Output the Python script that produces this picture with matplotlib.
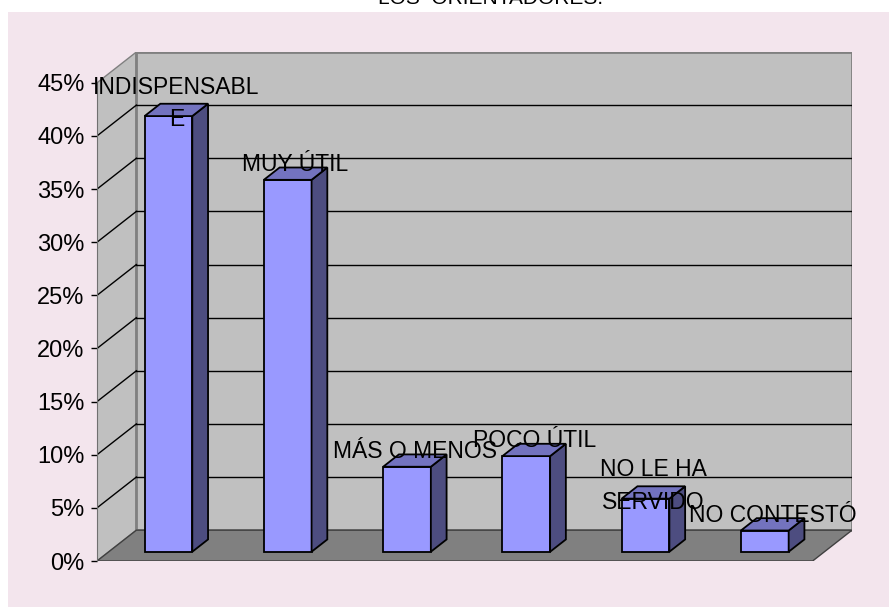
import matplotlib
matplotlib.use("Agg")
import matplotlib.pyplot as plt
from matplotlib.patches import Polygon, Rectangle
from matplotlib.ticker import PercentFormatter

plt.rcParams['font.family'] = ['Liberation Sans', 'DejaVu Sans']

# Porcentaje de respuestas por categoria
categorias = ['INDISPENSABL\nE', 'MUY ÚTIL', 'MÁS O MENOS', 'POCO ÚTIL',
              'NO LE HA\nSERVIDO', 'NO CONTESTÓ']
porcentajes = [41, 35, 8, 9, 5, 2]
ticks_y = [0, 5, 10, 15, 20, 25, 30, 35, 40, 45]
titulo = 'LOS  ORIENTADORES.'

# profundidad del efecto 3D (unidades de datos)
DX, DY = 0.33, 2.9
YMAX = 45

fig = plt.figure(figsize=(8.89, 6.07), dpi=100)
fig.patch.set_facecolor('white')
fig.patches.append(Rectangle((8 / 889, 0), 1, 1 - 12 / 607, transform=fig.transFigure,
                             facecolor='#F3E5ED', edgecolor='none', zorder=-10))
fig.text(491 / 889, 1 - 4 / 607, titulo, ha='center', va='baseline', fontsize=15)

ax = fig.add_axes([97 / 889, 46 / 607, 755 / 889, 509 / 607])
ax.set_facecolor('none')
n = len(categorias)
ax.set_xlim(0, n + DX)
ax.set_ylim(0, YMAX + DY)

# paredes y piso
ax.add_patch(Polygon([(0, 0), (DX, DY), (DX, YMAX + DY), (0, YMAX)],
                     facecolor='#C0C0C0', edgecolor='#808080', lw=1, zorder=1))
ax.add_patch(Rectangle((DX, DY), n, YMAX, facecolor='#C0C0C0',
                       edgecolor='#808080', lw=2, zorder=1))
ax.add_patch(Polygon([(0, 0), (n, 0), (n + DX, DY), (DX, DY)],
                     facecolor='#808080', edgecolor='#404040', lw=1, zorder=2))

for v in ticks_y[1:-1]:
    ax.plot([DX, n + DX], [v + DY, v + DY], color='black', lw=1, zorder=1.5)
    ax.plot([0, DX], [v, v + DY], color='black', lw=1, zorder=1.5)

# barras con cara frontal, lateral y superior
b = 0.3 * DY
bdx, bdy = 0.4 * DX, 0.4 * DY
w = 0.4
for i, v in enumerate(porcentajes):
    x0 = i + 0.3 + 0.3 * DX
    ax.bar(x0 + w / 2, v, width=w, bottom=b, color='#9999FF',
           edgecolor='black', lw=1.3, zorder=3)
    ax.add_patch(Polygon([(x0 + w, b), (x0 + w + bdx, b + bdy),
                          (x0 + w + bdx, b + v + bdy), (x0 + w, b + v)],
                         facecolor='#4D4D80', edgecolor='black', lw=1.3, zorder=3))
    ax.add_patch(Polygon([(x0, b + v), (x0 + w, b + v),
                          (x0 + w + bdx, b + v + bdy), (x0 + bdx, b + v + bdy)],
                         facecolor='#7373BF', edgecolor='black', lw=1.3, zorder=3))
    dos_lineas = '\n' in categorias[i]
    ax.text(i + 0.5 + 0.5 * DX, v + 0.5 * DY + (0.6 if dos_lineas else 0.85),
            categorias[i], ha='center', va='center', fontsize=16.5,
            linespacing=1.55, zorder=5)

# eje vertical
for s in ['top', 'right', 'bottom']:
    ax.spines[s].set_visible(False)
ax.spines['left'].set_bounds(0, YMAX)
ax.spines['left'].set_color('#707070')
ax.spines['left'].set_zorder(4)
ax.set_xticks([])
ax.set_yticks(ticks_y)
ax.yaxis.set_major_formatter(PercentFormatter(decimals=0))
ax.tick_params(axis='y', length=4, width=1, pad=5, labelsize=17)

fig.savefig('out.png', dpi=100)
